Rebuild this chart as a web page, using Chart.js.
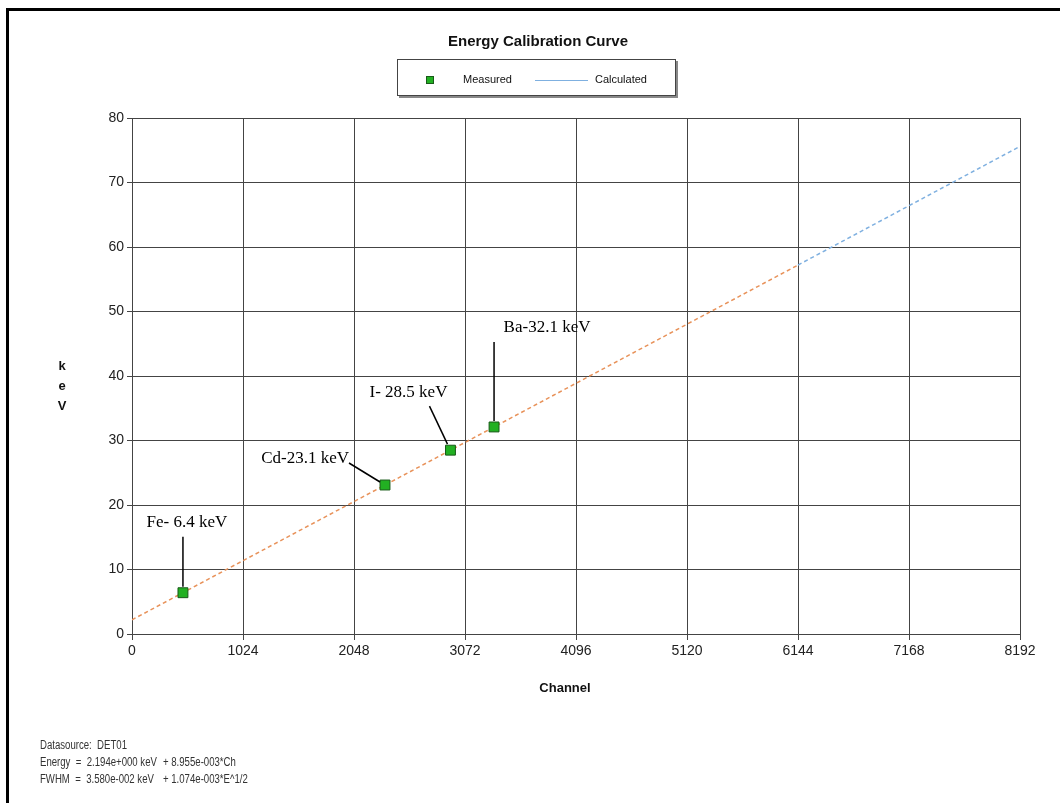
<!DOCTYPE html>
<html>
<head>
<meta charset="utf-8">
<script src="https://cdn.jsdelivr.net/npm/chart.js@4"></script>
<style>
  html, body { margin: 0; padding: 0; background: #fff; }
  #wrap { position: relative; width: 1060px; height: 803px; }
  #frame { position: absolute; left: 6px; top: 8px; right: 0; bottom: 0;
           border-top: 3px solid #000; border-left: 3px solid #000; pointer-events: none; }
</style>
</head>
<body>
<div id="wrap">
  <canvas id="myChart" width="1060" height="803"></canvas>
  <div id="frame"></div>
</div>
<script>
// measured calibration peaks
const peakNames = ["Fe- 6.4 keV", "Cd-23.1 keV", "I- 28.5 keV", "Ba-32.1 keV"];
const peakChannels = [470, 2334, 2938, 3340];
const peakEnergies = [6.4, 23.1, 28.5, 32.1];

// calculated curve
const calcChannels = [0, 6144, 8192];
const calcEnergies = [2.2, 57.2, 75.6];

const xTicks = [0, 1024, 2048, 3072, 4096, 5120, 6144, 7168, 8192];
const yTicks = [0, 10, 20, 30, 40, 50, 60, 70, 80];

const footLines = [
  ["Datasource:  DET01", ""],
  ["Energy  =  2.194e+000 keV", "+ 8.955e-003*Ch"],
  ["FWHM  =  3.580e-002 keV", "+ 1.074e-003*E^1/2"]
];

const SANS = "'Liberation Sans', Arial, sans-serif";
const SERIF = "'Liberation Serif', 'Times New Roman', serif";
const orange = "#e8925a";
const blue = "#7fb0e0";
const gridColor = "#444";

// label offset / leader line, in px relative to the point
const labelLayout = [
  { dx: 4, dy: -70, align: "center", l1: [0, -56], l2: [0, -6] },
  { dx: -36, dy: -26, align: "right", l1: [-36, -22], l2: [-5, -3] },
  { dx: -42, dy: -58, align: "center", l1: [-21, -44], l2: [-3, -6] },
  { dx: 53, dy: -99, align: "center", l1: [0, -85], l2: [0, -6] }
];

const decorations = {
  id: "decorations",
  afterDraw(chart) {
    const c = chart.ctx;
    const xs = chart.scales.x;
    const ys = chart.scales.y;
    c.save();

    // title
    c.fillStyle = "#111";
    c.font = "bold 15px " + SANS;
    c.textAlign = "center";
    c.textBaseline = "middle";
    c.fillText("Energy Calibration Curve", 538, 42);

    // legend box with shadow
    c.fillStyle = "#888";
    c.fillRect(399, 61, 279, 37);
    c.fillStyle = "#fff";
    c.fillRect(397, 59, 279, 37);
    c.strokeStyle = "#444";
    c.lineWidth = 1;
    c.strokeRect(397.5, 59.5, 278, 36);
    c.fillStyle = "#22b022";
    c.fillRect(426, 76, 8, 8);
    c.strokeStyle = "#185a18";
    c.strokeRect(426.5, 76.5, 7, 7);
    c.fillStyle = "#111";
    c.font = "11px " + SANS;
    c.textAlign = "left";
    c.fillText("Measured", 463, 80);
    c.strokeStyle = blue;
    c.beginPath();
    c.moveTo(535, 80.5);
    c.lineTo(588, 80.5);
    c.stroke();
    c.fillText("Calculated", 595, 80);

    // axis titles
    c.font = "bold 13px " + SANS;
    c.textAlign = "center";
    c.fillText("Channel", 565, 688);
    ["k", "e", "V"].forEach((ch, i) => c.fillText(ch, 62, 366 + i * 20));

    // footnote (condensed like the original print)
    c.font = "12px " + SANS;
    c.fillStyle = "#333";
    c.textAlign = "left";
    footLines.forEach((row, i) => {
      const y = 746 + i * 17;
      c.save();
      c.translate(40, y);
      c.scale(0.8, 1);
      c.fillText(row[0], 0, 0);
      c.restore();
      if (row[1]) {
        c.save();
        c.translate(163, y);
        c.scale(0.8, 1);
        c.fillText(row[1], 0, 0);
        c.restore();
      }
    });

    // peak labels with leader lines
    c.font = "17px " + SERIF;
    c.fillStyle = "#000";
    c.strokeStyle = "#000";
    c.lineWidth = 1.5;
    peakNames.forEach((name, i) => {
      const px = xs.getPixelForValue(peakChannels[i]);
      const py = ys.getPixelForValue(peakEnergies[i]);
      const L = labelLayout[i];
      c.textAlign = L.align;
      c.fillText(name, px + L.dx, py + L.dy);
      c.beginPath();
      c.moveTo(px + L.l1[0], py + L.l1[1]);
      c.lineTo(px + L.l2[0], py + L.l2[1]);
      c.stroke();
    });
    c.restore();
  }
};

const ctx = document.getElementById("myChart");

new Chart(ctx, {
  type: "scatter",
  data: {
    datasets: [
      {
        label: "Measured",
        data: peakChannels.map((ch, i) => ({ x: ch, y: peakEnergies[i] })),
        pointStyle: "rect",
        pointRadius: 7,
        backgroundColor: "#22b022",
        borderColor: "#185a18",
        borderWidth: 1,
        order: 1
      },
      {
        label: "Calculated",
        data: calcChannels.map((ch, i) => ({ x: ch, y: calcEnergies[i] })),
        showLine: true,
        pointRadius: 0,
        borderWidth: 1.5,
        borderDash: [4, 3],
        borderColor: orange,
        segment: {
          borderColor: (s) => (s.p0.parsed.x < 6144 ? orange : blue)
        },
        order: 2
      }
    ]
  },
  options: {
    responsive: false,
    animation: false,
    layout: { padding: { left: 0, top: 118, right: 40, bottom: 0 } },
    scales: {
      x: {
        type: "linear",
        min: 0,
        max: 8192,
        afterBuildTicks: (s) => { s.ticks = xTicks.map((v) => ({ value: v })); },
        afterFit: (s) => { s.height = 803 - 634; },
        ticks: { color: "#222", font: { family: SANS, size: 14 }, padding: 3, maxRotation: 0,
                 callback: (v) => String(v) },
        grid: { color: gridColor, tickLength: 6, tickColor: gridColor },
        border: { color: gridColor }
      },
      y: {
        type: "linear",
        min: 0,
        max: 80,
        afterBuildTicks: (s) => { s.ticks = yTicks.map((v) => ({ value: v })); },
        afterFit: (s) => { s.width = 132; },
        ticks: { color: "#222", font: { family: SANS, size: 14 }, padding: 3,
                 callback: (v) => String(v) },
        grid: { color: gridColor, tickLength: 5, tickColor: gridColor },
        border: { color: gridColor }
      }
    },
    plugins: {
      legend: { display: false },
      title: { display: false },
      tooltip: { enabled: false }
    }
  },
  plugins: [decorations]
});
</script>
</body>
</html>
